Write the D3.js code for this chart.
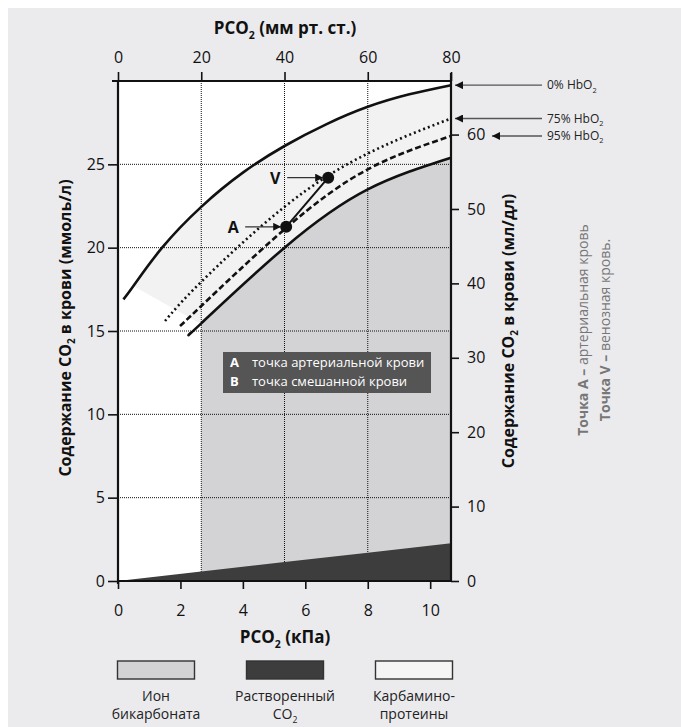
<!DOCTYPE html>
<html><head><meta charset="utf-8">
<script src="https://cdn.jsdelivr.net/npm/d3@7"></script>
<style>
html,body{margin:0;padding:0;background:#fff;}
svg{display:block;font-family:"Open Sans","Noto Sans",sans-serif;}
</style></head>
<body>
<svg id="chart" width="681" height="727"></svg>
<script>
// ---------- data (PCO2 in mm Hg, CO2 content in mmol/l) ----------
const topTicksMmHg = [0, 20, 40, 60, 80];
const bottomTicksKPa = [0, 2, 4, 6, 8, 10];
const leftTicksMmol = [0, 5, 10, 15, 20, 25];
const rightTicksMlDl = [0, 10, 20, 30, 40, 50, 60];

const curve0HbO2 = [[1.3,16.9],[3.7,17.7],[10.6,20.0],[20,22.45],[30,24.5],[40,26.1],[50,27.4],[60,28.45],[70,29.2],[80,29.75]];
const curve75HbO2 = [[11.3,15.6],[20,17.95],[40,22.45],[60,25.65],[80,27.75]];
const curve95HbO2 = [[14.9,15.3],[20,16.5],[40,21.1],[60,24.7],[80,26.7]];
const bicarbTop = [[17.5,14.9],[20,15.46],[40,20.0],[60,23.5],[80,25.4]];
const dissolved = [[0,0],[20,0.57],[40,1.14],[60,1.70],[80,2.26]];
const carbaminoCorner = [[3.7,17.7],[20,15.4]];
const pointA = [40.4, 21.25];
const pointV = [50.5, 24.2];
const curveLabels = ["0% HbO", "75% HbO", "95% HbO"];
const legendLabels = [["Ион","бикарбоната"],["Растворенный","CO"],["Карбамино-","протеины"]];

// ---------- setup ----------
const svg = d3.select("#chart");
svg.append("rect").attr("x",8).attr("y",8).attr("width",673).attr("height",719).attr("fill","#ebebee");

const x = d3.scaleLinear().domain([0,80]).range([118,451]);
const xk = d3.scaleLinear().domain([0,80/7.5]).range([118,451]);
const y = d3.scaleLinear().domain([0,30]).range([581,81]);
const yr = d3.scaleLinear().domain([0,30*2.24]).range([581,81]);

function rich(sel, segs, fs){
  segs.forEach(s=>{
    const t = sel.append("tspan").text(s.t);
    if(s.bold!==undefined) t.attr("font-weight", s.bold?700:400);
    if(s.sub){ t.attr("font-size", fs*0.62).attr("dy", fs*0.28); }
    if(s.after){ t.attr("dy", -fs*0.28); }
  });
  return sel;
}

// plot background
svg.append("rect").attr("x",x(0)).attr("y",y(30)).attr("width",x(80)-x(0)).attr("height",y(0)-y(30)).attr("fill","#fff");

const line = d3.line().x(d=>x(d[0])).y(d=>y(d[1])).curve(d3.curveNatural);
const underArea = d3.area().x(d=>x(d[0])).y0(y(0)).y1(d=>y(d[1])).curve(d3.curveNatural);

// carbamino light region
svg.append("path").attr("d", underArea(curve0HbO2)).attr("fill","#f2f2f3");
// white part left of the diagonal boundary
const c0 = carbaminoCorner[0], c1 = carbaminoCorner[1];
const whitePoly = [[0,0],[0,30],[c0[0],30],c0,c1,[c1[0],0]];
svg.append("path").attr("d", "M"+whitePoly.map(d=>[x(d[0]),y(d[1])].join(",")).join("L")+"Z").attr("fill","#fff");
// bicarbonate region (from 20 mm Hg)
svg.append("path").attr("d", underArea(bicarbTop.filter(d=>d[0]>=20))).attr("fill","#d3d3d5");

// grid
const grid = svg.append("g").attr("stroke","#111").attr("stroke-width",1).attr("stroke-dasharray","1,1");
leftTicksMmol.filter(v=>v>0).forEach(v=>{
  grid.append("line").attr("x1",x(0)).attr("x2",x(80)).attr("y1",y(v)).attr("y2",y(v));
});
topTicksMmHg.filter(v=>v>0&&v<80).forEach(v=>{
  grid.append("line").attr("x1",x(v)).attr("x2",x(v)).attr("y1",y(30)).attr("y2",y(0));
});

// dissolved CO2
svg.append("path").attr("d", d3.area().x(d=>x(d[0])).y0(y(0)).y1(d=>y(d[1]))(dissolved)).attr("fill","#3d3d3d");

// curves
svg.append("path").attr("d", line(curve0HbO2)).attr("fill","none").attr("stroke","#111").attr("stroke-width",2.6);
svg.append("path").attr("d", line(bicarbTop)).attr("fill","none").attr("stroke","#111").attr("stroke-width",2.6);
svg.append("path").attr("d", line(curve75HbO2)).attr("fill","none").attr("stroke","#111").attr("stroke-width",2.6).attr("stroke-dasharray","2,3");
svg.append("path").attr("d", line(curve95HbO2)).attr("fill","none").attr("stroke","#111").attr("stroke-width",2.6).attr("stroke-dasharray","6,3");

// axes
const fsT = 16;
const gTop = svg.append("g").attr("transform",`translate(0,${y(30)})`)
  .call(d3.axisTop(x).tickValues(topTicksMmHg).tickSize(9).tickPadding(9));
const gBot = svg.append("g").attr("transform",`translate(0,${y(0)})`)
  .call(d3.axisBottom(xk).tickValues(bottomTicksKPa).tickSize(8).tickPadding(16));
const gLeft = svg.append("g").attr("transform",`translate(${x(0)},0)`)
  .call(d3.axisLeft(y).tickValues(leftTicksMmol).tickSize(10).tickPadding(3));
const gRight = svg.append("g").attr("transform",`translate(${x(80)},0)`)
  .call(d3.axisRight(yr).tickValues(rightTicksMlDl).tickSize(8).tickPadding(8));
[gTop,gBot,gLeft,gRight].forEach(g=>{
  g.select(".domain").remove();
  g.selectAll(".tick line").attr("stroke","#111").attr("stroke-width",1.6);
  g.selectAll(".tick text").attr("font-size",fsT).attr("fill","#111").attr("font-family","'Open Sans',sans-serif");
});
// frame
const frame = svg.append("g").attr("stroke","#111").attr("stroke-width",2.2).attr("fill","none");
frame.append("line").attr("x1",112).attr("x2",x(80)).attr("y1",y(30)).attr("y2",y(30));
frame.append("line").attr("x1",x(0)).attr("x2",x(80)).attr("y1",y(0)).attr("y2",y(0));
frame.append("line").attr("x1",x(0)).attr("x2",x(0)).attr("y1",y(30)).attr("y2",y(0)+3);
frame.append("line").attr("x1",x(80)).attr("x2",x(80)).attr("y1",y(30)-8).attr("y2",y(0));

// axis titles
rich(svg.append("text").attr("x",285).attr("y",34).attr("text-anchor","middle").attr("font-size",17).attr("font-weight",700).attr("fill","#111"),
  [{t:"PCO"},{t:"2",sub:true},{t:" (мм рт. ст.)",after:true}],17);
rich(svg.append("text").attr("x",285).attr("y",643).attr("text-anchor","middle").attr("font-size",17).attr("font-weight",700).attr("fill","#111"),
  [{t:"PCO"},{t:"2",sub:true},{t:" (кПа)",after:true}],17);
rich(svg.append("text").attr("transform","translate(71,328) rotate(-90)").attr("text-anchor","middle").attr("font-size",16).attr("font-weight",700).attr("fill","#111"),
  [{t:"Содержание CO"},{t:"2",sub:true},{t:" в крови (ммоль/л)",after:true}],16);
rich(svg.append("text").attr("transform","translate(514,331) rotate(-90)").attr("text-anchor","middle").attr("font-size",16).attr("font-weight",700).attr("fill","#111"),
  [{t:"Содержание CO"},{t:"2",sub:true},{t:" в крови (мл/дл)",after:true}],16);

// side notes
rich(svg.append("text").attr("transform","translate(588,330) rotate(-90)").attr("text-anchor","middle").attr("font-size",14).attr("fill","#777"),
  [{t:"Точка A – ",bold:true},{t:"артериальная кровь",bold:false}],14);
rich(svg.append("text").attr("transform","translate(610,330) rotate(-90)").attr("text-anchor","middle").attr("font-size",14).attr("fill","#777"),
  [{t:"Точка V – ",bold:true},{t:"венозная кровь.",bold:false}],14);

// right arrows + labels
svg.append("defs").append("marker").attr("id","ah").attr("viewBox","0 0 10 10").attr("refX",10).attr("refY",5)
  .attr("markerWidth",10).attr("markerHeight",8).attr("markerUnits","userSpaceOnUse").attr("orient","auto")
  .append("path").attr("d","M0,0L10,5L0,10Z").attr("fill","#111");
const ends = [curve0HbO2, curve75HbO2, curve95HbO2].map(c=>c[c.length-1][1]);
const tips = [455, 455, 492];
ends.forEach((v,i)=>{
  const yy = y(v);
  svg.append("line").attr("x1",542).attr("x2",tips[i]).attr("y1",yy).attr("y2",yy)
    .attr("stroke","#555").attr("stroke-width",1.3).attr("marker-end","url(#ah)");
  rich(svg.append("text").attr("x",547).attr("y",yy+4).attr("font-size",12).attr("fill","#222"),
    [{t:curveLabels[i]},{t:"2",sub:true}],12);
});

// A-V connector and points
svg.append("line").attr("x1",x(pointA[0])).attr("y1",y(pointA[1])).attr("x2",x(pointV[0])).attr("y2",y(pointV[1]))
  .attr("stroke","#111").attr("stroke-width",2);
[[pointA,"A"],[pointV,"V"]].forEach(([p,lab])=>{
  const px=x(p[0]), py=y(p[1]);
  svg.append("circle").attr("cx",px).attr("cy",py).attr("r",6).attr("fill","#111");
  svg.append("line").attr("x1",px-41).attr("x2",px-5).attr("y1",py).attr("y2",py)
    .attr("stroke","#333").attr("stroke-width",1.3).attr("marker-end","url(#ah)");
  svg.append("text").attr("x",px-53).attr("y",py+6).attr("text-anchor","middle").attr("font-size",16).attr("font-weight",700).attr("fill","#111").text(lab);
});

// inner legend box
svg.append("rect").attr("x",223).attr("y",352).attr("width",208).attr("height",41).attr("fill","#555");
[["A","точка артериальной крови"],["B","точка смешанной крови"]].forEach((r,i)=>{
  svg.append("text").attr("x",230).attr("y",367+i*19).attr("font-size",13).attr("font-weight",700).attr("fill","#fff").text(r[0]);
  svg.append("text").attr("x",252).attr("y",367+i*19).attr("font-size",13).attr("fill","#fff").text(r[1]);
});

// bottom legend
const legFills = ["#d3d3d5","#3d3d3d","#f4f4f4"];
const legX = [156, 285, 414];
legFills.forEach((f,i)=>{
  svg.append("rect").attr("x",legX[i]-38.5).attr("y",661).attr("width",77).attr("height",18).attr("fill",f).attr("stroke","#333").attr("stroke-width",1.4);
  svg.append("text").attr("x",legX[i]).attr("y",701).attr("text-anchor","middle").attr("font-size",14).attr("fill","#222").text(legendLabels[i][0]);
  const t2 = svg.append("text").attr("x",legX[i]).attr("y",719).attr("text-anchor","middle").attr("font-size",14).attr("fill","#222");
  if(i===1) rich(t2,[{t:"CO"},{t:"2",sub:true}],14); else t2.text(legendLabels[i][1]);
});
</script>
</body></html>
